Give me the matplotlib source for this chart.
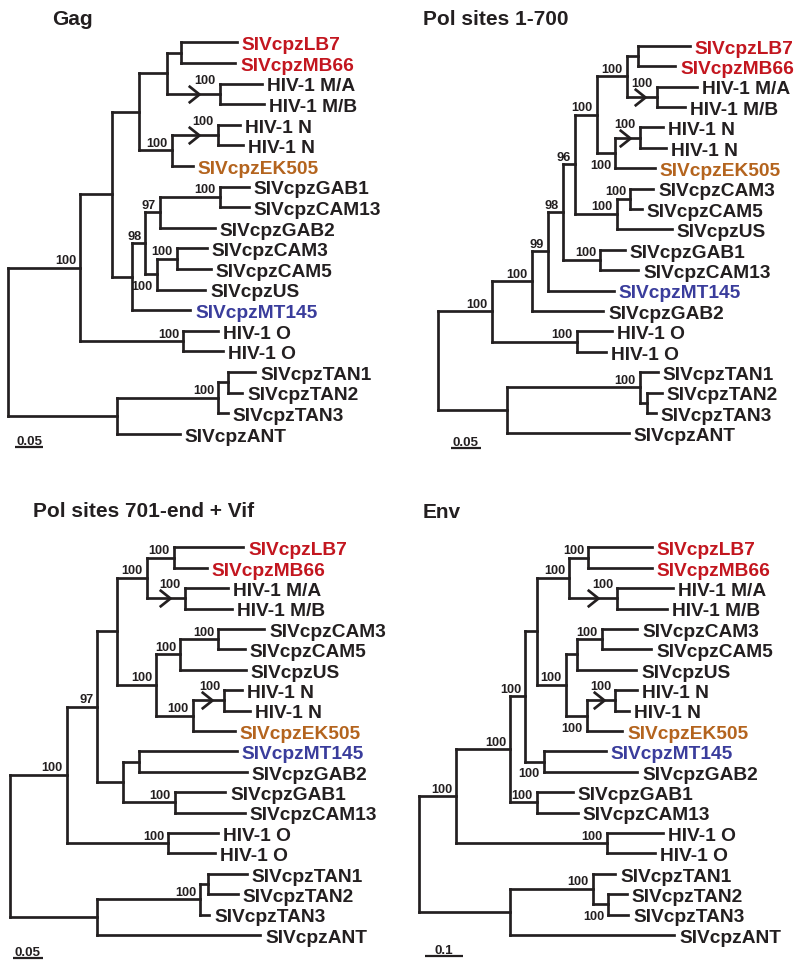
import matplotlib
matplotlib.use("Agg")
import matplotlib.pyplot as plt
from matplotlib.path import Path
from matplotlib.markers import MarkerStyle

plt.rcParams['font.family'] = ['Liberation Sans', 'DejaVu Sans']

# ------------------------------------------------------------------ data
TITLES = ["Gag", "Pol sites 1-700", "Pol sites 701-end + Vif", "Env"]
SCALES = [0.05, 0.05, 0.05, 0.1]
SCALE_LABELS = ["0.05", "0.05", "0.05", "0.1"]

# edges: (parent, child, distance of child from the root, substitutions/site)
# children are listed top to bottom; "#2" marks a second sequence of the same name
GAG_EDGES = [
    ("root", "A", 0.127), ("root", "P", 0.192),
    ("A", "B", 0.183), ("A", "O", 0.309),
    ("B", "C", 0.231), ("B", "I", 0.218),
    ("C", "D", 0.280), ("C", "G", 0.289),
    ("D", "E", 0.306), ("D", "F", 0.374),
    ("E", "SIVcpzLB7", 0.404), ("E", "SIVcpzMB66", 0.401),
    ("F", "HIV-1 M/A", 0.448), ("F", "HIV-1 M/B", 0.452),
    ("G", "H", 0.370), ("G", "SIVcpzEK505", 0.326),
    ("H", "HIV-1 N", 0.409), ("H", "HIV-1 N#2", 0.415),
    ("I", "J", 0.242), ("I", "SIVcpzMT145", 0.321),
    ("J", "K", 0.268), ("J", "M", 0.262),
    ("K", "L", 0.374), ("K", "SIVcpzGAB2", 0.365),
    ("L", "SIVcpzGAB1", 0.425), ("L", "SIVcpzCAM13", 0.425),
    ("M", "N", 0.298), ("M", "SIVcpzUS", 0.348),
    ("N", "SIVcpzCAM3", 0.351), ("N", "SIVcpzCAM5", 0.358),
    ("O", "HIV-1 O", 0.370), ("O", "HIV-1 O#2", 0.379),
    ("P", "Q", 0.371), ("P", "SIVcpzANT", 0.303),
    ("Q", "R", 0.388), ("Q", "SIVcpzTAN3", 0.388),
    ("R", "SIVcpzTAN1", 0.436), ("R", "SIVcpzTAN2", 0.413),
]
GAG_SUPPORT = {"A": "100", "F": "100", "G": "100", "H": "100", "J": "98", "K": "97",
               "L": "100", "M": "100", "N": "100", "O": "100", "Q": "100"}
GAG_SUPPORT_BELOW = ["M"]
GAG_CHEVRONS = ["F", "H"]

POL1_EDGES = [
    ("root", "A", 0.089), ("root", "P", 0.115),
    ("A", "B", 0.156), ("A", "O", 0.231),
    ("B", "C", 0.183), ("B", "SIVcpzGAB2", 0.275),
    ("C", "D", 0.208), ("C", "SIVcpzMT145", 0.292),
    ("D", "E", 0.228), ("D", "N", 0.270),
    ("E", "F", 0.264), ("E", "L", 0.297),
    ("F", "G", 0.314), ("F", "J", 0.295),
    ("G", "H", 0.333), ("G", "I", 0.364),
    ("H", "SIVcpzLB7", 0.419), ("H", "SIVcpzMB66", 0.395),
    ("I", "HIV-1 M/A", 0.431), ("I", "HIV-1 M/B", 0.411),
    ("J", "K", 0.336), ("J", "SIVcpzEK505", 0.361),
    ("K", "HIV-1 N", 0.375), ("K", "HIV-1 N#2", 0.379),
    ("L", "M", 0.320), ("L", "SIVcpzUS", 0.389),
    ("M", "SIVcpzCAM3", 0.358), ("M", "SIVcpzCAM5", 0.339),
    ("N", "SIVcpzGAB1", 0.311), ("N", "SIVcpzCAM13", 0.333),
    ("O", "HIV-1 O", 0.289), ("O", "HIV-1 O#2", 0.279),
    ("P", "Q", 0.336), ("P", "SIVcpzANT", 0.317),
    ("Q", "SIVcpzTAN1", 0.366), ("Q", "R", 0.347),
    ("R", "SIVcpzTAN2", 0.372), ("R", "SIVcpzTAN3", 0.362),
]
POL1_SUPPORT = {"A": "100", "B": "100", "C": "99", "D": "98", "E": "96", "F": "100",
                "G": "100", "I": "100", "J": "100", "K": "100", "L": "100", "M": "100",
                "N": "100", "O": "100", "Q": "100"}
POL1_SUPPORT_BELOW = ["J"]
POL1_CHEVRONS = ["I", "K"]

POL2_EDGES = [
    ("root", "A", 0.097), ("root", "P", 0.148),
    ("A", "B", 0.149), ("A", "O", 0.270),
    ("B", "C", 0.183), ("B", "L", 0.193),
    ("C", "D", 0.233), ("C", "G", 0.249),
    ("D", "E", 0.279), ("D", "F", 0.298),
    ("E", "SIVcpzLB7", 0.397), ("E", "SIVcpzMB66", 0.335),
    ("F", "HIV-1 M/A", 0.371), ("F", "HIV-1 M/B", 0.378),
    ("G", "H", 0.290), ("G", "J", 0.311),
    ("H", "I", 0.355), ("H", "SIVcpzUS", 0.402),
    ("I", "SIVcpzCAM3", 0.433), ("I", "SIVcpzCAM5", 0.400),
    ("J", "K", 0.365), ("J", "SIVcpzEK505", 0.383),
    ("K", "HIV-1 N", 0.395), ("K", "HIV-1 N#2", 0.409),
    ("L", "M", 0.220), ("L", "N", 0.281),
    ("M", "SIVcpzMT145", 0.386), ("M", "SIVcpzGAB2", 0.403),
    ("N", "SIVcpzGAB1", 0.367), ("N", "SIVcpzCAM13", 0.400),
    ("O", "HIV-1 O", 0.355), ("O", "HIV-1 O#2", 0.349),
    ("P", "Q", 0.324), ("P", "SIVcpzANT", 0.426),
    ("Q", "R", 0.338), ("Q", "SIVcpzTAN3", 0.339),
    ("R", "SIVcpzTAN1", 0.403), ("R", "SIVcpzTAN2", 0.388),
]
POL2_SUPPORT = {"A": "100", "B": "97", "D": "100", "E": "100", "F": "100", "G": "100",
                "H": "100", "I": "100", "J": "100", "K": "100", "N": "100", "O": "100",
                "Q": "100"}
POL2_SUPPORT_BELOW = []
POL2_CHEVRONS = ["F", "K"]

ENV_EDGES = [
    ("root", "A", 0.097), ("root", "P", 0.238),
    ("A", "B", 0.238), ("A", "O", 0.490),
    ("B", "C", 0.277), ("B", "N", 0.307),
    ("C", "D", 0.307), ("C", "M", 0.326),
    ("D", "E", 0.392), ("D", "H", 0.383),
    ("E", "F", 0.442), ("E", "G", 0.518),
    ("F", "SIVcpzLB7", 0.608), ("F", "SIVcpzMB66", 0.608),
    ("G", "HIV-1 M/A", 0.663), ("G", "HIV-1 M/B", 0.648),
    ("H", "I", 0.412), ("H", "K", 0.438),
    ("I", "J", 0.477), ("I", "SIVcpzUS", 0.567),
    ("J", "SIVcpzCAM3", 0.570), ("J", "SIVcpzCAM5", 0.606),
    ("K", "L", 0.512), ("K", "SIVcpzEK505", 0.531),
    ("L", "HIV-1 N", 0.570), ("L", "HIV-1 N#2", 0.548),
    ("M", "SIVcpzMT145", 0.488), ("M", "SIVcpzGAB2", 0.570),
    ("N", "SIVcpzGAB1", 0.401), ("N", "SIVcpzCAM13", 0.415),
    ("O", "HIV-1 O", 0.636), ("O", "HIV-1 O#2", 0.616),
    ("P", "Q", 0.454), ("P", "SIVcpzANT", 0.666),
    ("Q", "SIVcpzTAN1", 0.512), ("Q", "R", 0.494),
    ("R", "SIVcpzTAN2", 0.543), ("R", "SIVcpzTAN3", 0.546),
]
ENV_SUPPORT = {"A": "100", "B": "100", "C": "100", "E": "100", "F": "100", "G": "100",
               "H": "100", "J": "100", "K": "100", "L": "100", "M": "100", "N": "100",
               "O": "100", "Q": "100", "R": "100"}
ENV_SUPPORT_BELOW = ["K", "M", "R"]
ENV_CHEVRONS = ["G", "L"]

# ------------------------------------------------------------------ style
INK = '#231f20'
RED = '#c3161f'
ORANGE = '#b4641e'
BLUE = '#3a3d9c'
TAXON_COLORS = {"SIVcpzLB7": RED, "SIVcpzMB66": RED,
                "SIVcpzEK505": ORANGE, "SIVcpzMT145": BLUE}
LW = 1.95
PT = 0.72  # points per pixel at 100 dpi

FIG_W, FIG_H = 800, 970
fig = plt.figure(figsize=(FIG_W / 100, FIG_H / 100), dpi=100)
fig.patch.set_facecolor('white')

chev_path = Path([(-1.25, 1.0), (0.0, 0.0), (-1.25, -1.0)],
                 [Path.MOVETO, Path.LINETO, Path.LINETO])
CHEVRON = MarkerStyle(chev_path, fillstyle='none', joinstyle='miter')

# panel layout: pixel rect, root x, pixels per unit, first-leaf y, leaf spacing,
# scale-bar origin, title anchor
LAYOUT = [
    dict(rect=(0, 0, 400, 485), root=8.3, ppu=566, y0=43.3, sp=20.6,
         bar=(15, 448), title=(52, 25)),
    dict(rect=(400, 0, 400, 485), root=438.3, ppu=600, y0=46.7, sp=20.4,
         bar=(450.7, 449), title=(423, 25)),
    dict(rect=(0, 485, 400, 485), root=10, ppu=587, y0=548.3, sp=20.4,
         bar=(13.3, 959.3), title=(33, 517)),
    dict(rect=(400, 485, 400, 485), root=419, ppu=383, y0=548.3, sp=20.4,
         bar=(425, 956.7), title=(423, 518)),
]

TREES = [
    (GAG_EDGES, GAG_SUPPORT, GAG_SUPPORT_BELOW, GAG_CHEVRONS),
    (POL1_EDGES, POL1_SUPPORT, POL1_SUPPORT_BELOW, POL1_CHEVRONS),
    (POL2_EDGES, POL2_SUPPORT, POL2_SUPPORT_BELOW, POL2_CHEVRONS),
    (ENV_EDGES, ENV_SUPPORT, ENV_SUPPORT_BELOW, ENV_CHEVRONS),
]


def draw_panel(lay, tree, title, scale, scale_label):
    edges, support, below, chevrons = tree
    x0, ytop, w, h = lay['rect']
    ax = fig.add_axes([x0 / FIG_W, 1 - (ytop + h) / FIG_H, w / FIG_W, h / FIG_H])
    ax.set_xlim((x0 - lay['root']) / lay['ppu'], (x0 + w - lay['root']) / lay['ppu'])
    ax.set_ylim((ytop + h - lay['y0']) / lay['sp'], (ytop - lay['y0']) / lay['sp'])
    ax.axis('off')

    children, depth, parent = {}, {"root": 0.0}, {}
    for p, c, d in edges:
        children.setdefault(p, []).append(c)
        depth[c] = d
        parent[c] = p

    ypos = {}
    count = [0]

    def place(n):
        if n not in children:
            ypos[n] = count[0]
            count[0] += 1
        else:
            for c in children[n]:
                place(c)
            ypos[n] = 0.5 * (ypos[children[n][0]] + ypos[children[n][-1]])

    place("root")

    kw = dict(color=INK, lw=LW, solid_capstyle='projecting', clip_on=False)
    for n, ch in children.items():
        ax.plot([depth[n], depth[n]], [ypos[ch[0]], ypos[ch[-1]]], **kw)
        for c in ch:
            ax.plot([depth[n], depth[c]], [ypos[c], ypos[c]], **kw)

    # chevrons on branches
    for n in chevrons:
        p = parent[n]
        xt = depth[p] + 0.6 * (depth[n] - depth[p])
        ax.plot([xt], [ypos[n]], marker=CHEVRON, ms=15.5, mew=LW, mec=INK,
                linestyle='none', clip_on=False)

    # leaf labels
    for n in ypos:
        if n not in children:
            label = n.split('#')[0]
            ax.annotate(label, xy=(depth[n], ypos[n]), xytext=(5 * PT, -5.0),
                        textcoords='offset points', ha='left', va='baseline',
                        fontsize=13.8, fontweight='bold',
                        color=TAXON_COLORS.get(label, INK), annotation_clip=False)

    # bootstrap support
    for n, s in support.items():
        if n in below:
            off, va = (-4 * PT, -6.0 * PT), 'top'
        elif n in chevrons:
            off, va = (-4 * PT, 11 * PT), 'baseline'
        else:
            off, va = (-4 * PT, 4.5 * PT), 'baseline'
        ax.annotate(s, xy=(depth[n], ypos[n]), xytext=off, textcoords='offset points',
                    ha='right', va=va, fontsize=9.2, fontweight='bold', color=INK,
                    annotation_clip=False)

    # scale bar
    bx = (lay['bar'][0] - lay['root']) / lay['ppu']
    by = (lay['bar'][1] - lay['y0']) / lay['sp']
    ax.plot([bx, bx + scale], [by, by], color=INK, lw=1.6, solid_capstyle='butt',
            clip_on=False)
    ax.annotate(scale_label, xy=(bx + scale / 2, by), xytext=(0, 3 * PT),
                textcoords='offset points', ha='center', va='baseline',
                fontsize=9.6, fontweight='bold', color=INK, annotation_clip=False)

    fig.text(lay['title'][0] / FIG_W, 1 - lay['title'][1] / FIG_H, title,
             ha='left', va='baseline', fontsize=15, fontweight='bold', color=INK)


for lay, tree, title, scale, sl in zip(LAYOUT, TREES, TITLES, SCALES, SCALE_LABELS):
    draw_panel(lay, tree, title, scale, sl)

fig.savefig("out.png", dpi=100, facecolor='white')
